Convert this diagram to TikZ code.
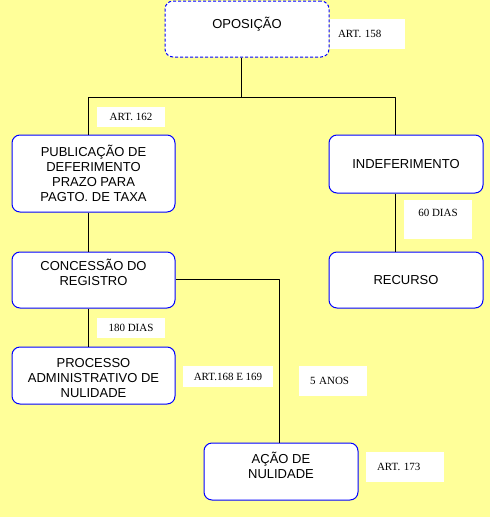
\documentclass[tikz,border=0pt]{standalone}
\usepackage{fontspec}
\setmainfont{Liberation Serif}
\newfontfamily\caixafont{Liberation Sans}
\definecolor{fundo}{HTML}{FFFF99}
\begin{document}
\begin{tikzpicture}[x=1pt, y=-1pt, line join=round,
		caixa/.style={draw=blue, fill=white, rounded corners=8pt, line width=1pt, inner sep=0pt, align=center, font=\caixafont\fontsize{13}{15}\selectfont},
		nota/.style={fill=white, inner sep=0pt, align=center, font=\fontsize{11}{13}\selectfont},
		liga/.style={draw=black, line width=1pt}]
			\fill[fundo] (0,0) rectangle (490,517);
			\useasboundingbox (0,0) rectangle (490,517);
			\node[caixa, dashed, dash pattern=on 3pt off 2pt, minimum width=164, minimum height=56, text depth=12] (opos) at (247,29) {OPOSIÇÃO};
			\node[caixa, minimum width=163, minimum height=77] (pub) at (93.5,173.5) {PUBLICAÇÃO DE\\DEFERIMENTO\\PRAZO PARA\\PAGTO. DE TAXA};
			\node[caixa, minimum width=154, minimum height=58] (indef) at (406,164) {INDEFERIMENTO};
			\node[caixa, minimum width=154, minimum height=56] (rec) at (406,280) {RECURSO};
			\node[caixa, minimum width=163, minimum height=56, text depth=16] (conc) at (93.5,280) {CONCESSÃO DO\\REGISTRO};
			\node[caixa, minimum width=163, minimum height=57, text height=45] (proc) at (93.5,375.5) {PROCESSO\\ADMINISTRATIVO DE\\NULIDADE};
			\node[caixa, minimum width=154, minimum height=57, text depth=12] (acao) at (281,471.5) {AÇÃO DE\\NULIDADE};
			\node[nota, align=left, text width=59, inner xsep=8, minimum height=30] (n158) at (367.5,34) {ART. 158};
			\node[nota, minimum width=68, minimum height=20] (n162) at (131,117) {ART. 162};
			\node[nota, minimum width=68, minimum height=39, text depth=13] (n60) at (438,219.5) {60 DIAS};
			\node[nota, minimum width=68, minimum height=20] (n180) at (131,328) {180 DIAS};
			\node[nota, minimum width=90, minimum height=21] (n168) at (228,376.5) {ART.168 E 169};
			\node[nota, align=left, text width=46, inner xsep=11, minimum height=30] (n5) at (333,381) {5 ANOS};
			\node[nota, align=left, text width=56, inner xsep=11, minimum height=30] (n173) at (405,467) {ART. 173};
			\coordinate (jun) at (241,97);
			\coordinate (esq) at (88,97);
			\coordinate (dir) at (395,97);
			\coordinate (dobra) at (279,279);
			\draw[liga] (opos.south -| jun) -- (jun);
			\draw[liga] (pub.north -| esq) -- (esq) -- (dir) -- (dir |- indef.north);
			\draw[liga] (pub.south -| esq) -- (conc.north -| esq);
			\draw[liga] (conc.south -| esq) -- (proc.north -| esq);
			\draw[liga] (indef.south -| dir) -- (rec.north -| dir);
			\draw[liga] (conc.east |- dobra) -- (dobra) -- (dobra |- acao.north);
		\end{tikzpicture}
\end{document}
